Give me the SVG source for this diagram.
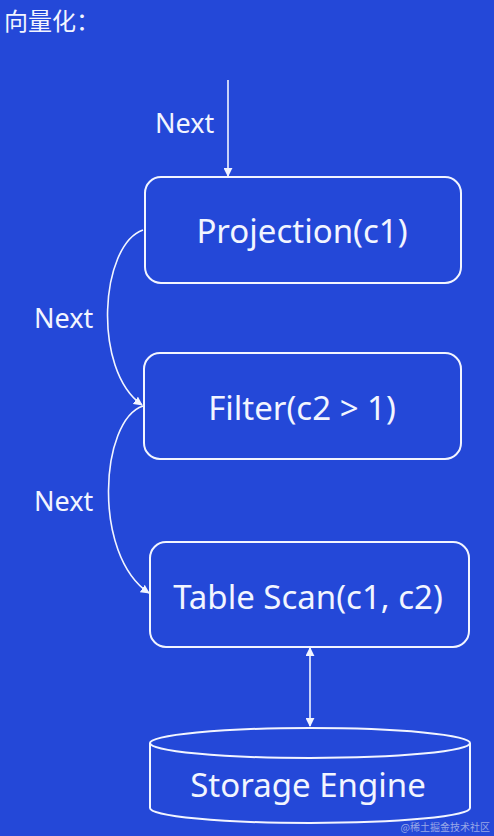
<svg xmlns="http://www.w3.org/2000/svg" width="494" height="836" viewBox="0 0 494 836">
<style>
.t{font-family:"Noto Sans","Noto Sans CJK SC",sans-serif;fill:#f2f5ff}
.box{fill:none;stroke:#f2f5ff;stroke-width:2}
.ln{fill:none;stroke:#f2f5ff;stroke-width:1.6}
</style>
<defs>
<marker id="ah" viewBox="0 0 10 10" refX="9" refY="5" markerWidth="9" markerHeight="9" markerUnits="userSpaceOnUse" orient="auto-start-reverse">
<path d="M0,0 L10,5 L0,10 Z" fill="#f2f5ff"/>
</marker>
</defs>
<rect width="494" height="836" fill="#2448d8"/>
<text class="t" x="4" y="30" font-size="24">向量化：</text>
<g id="connectors">
<line class="ln" x1="228" y1="80" x2="228" y2="176" marker-end="url(#ah)"/>
<path class="ln" d="M143,230 C100,245 92,370 142,405" marker-end="url(#ah)"/>
<path class="ln" d="M143,406 C100,420 92,555 149,593" marker-end="url(#ah)"/>
<line class="ln" x1="310" y1="648" x2="310" y2="726" marker-start="url(#ah)" marker-end="url(#ah)"/>
<text class="t" x="155" y="133" font-size="27">Next</text>
<text class="t" x="34" y="328" font-size="27">Next</text>
<text class="t" x="34" y="511" font-size="27">Next</text>
</g>
<g id="projection">
<rect class="box" x="145" y="177" width="316" height="106" rx="16"/>
<text class="t" x="302" y="243" font-size="33" text-anchor="middle">Projection(c1)</text>
</g>
<g id="filter">
<rect class="box" x="144" y="353" width="317" height="106" rx="16"/>
<text class="t" x="302" y="420" font-size="33" text-anchor="middle">Filter(c2 &gt; 1)</text>
</g>
<g id="tablescan">
<rect class="box" x="150" y="542" width="319" height="105" rx="16"/>
<text class="t" x="308" y="609" font-size="33" text-anchor="middle">Table Scan(c1, c2)</text>
</g>
<g id="storage">
<path class="box" d="M150,743 L150,808 A160,15 0 0 0 470,808 L470,743"/>
<ellipse class="box" cx="310" cy="743" rx="160" ry="15"/>
<text class="t" x="308" y="797" font-size="33" text-anchor="middle">Storage Engine</text>
</g>
<text x="490" y="831" font-size="10" text-anchor="end" font-family="Noto Sans CJK SC,sans-serif" fill="#c8d0ee" opacity="0.7">@稀土掘金技术社区</text>
</svg>
